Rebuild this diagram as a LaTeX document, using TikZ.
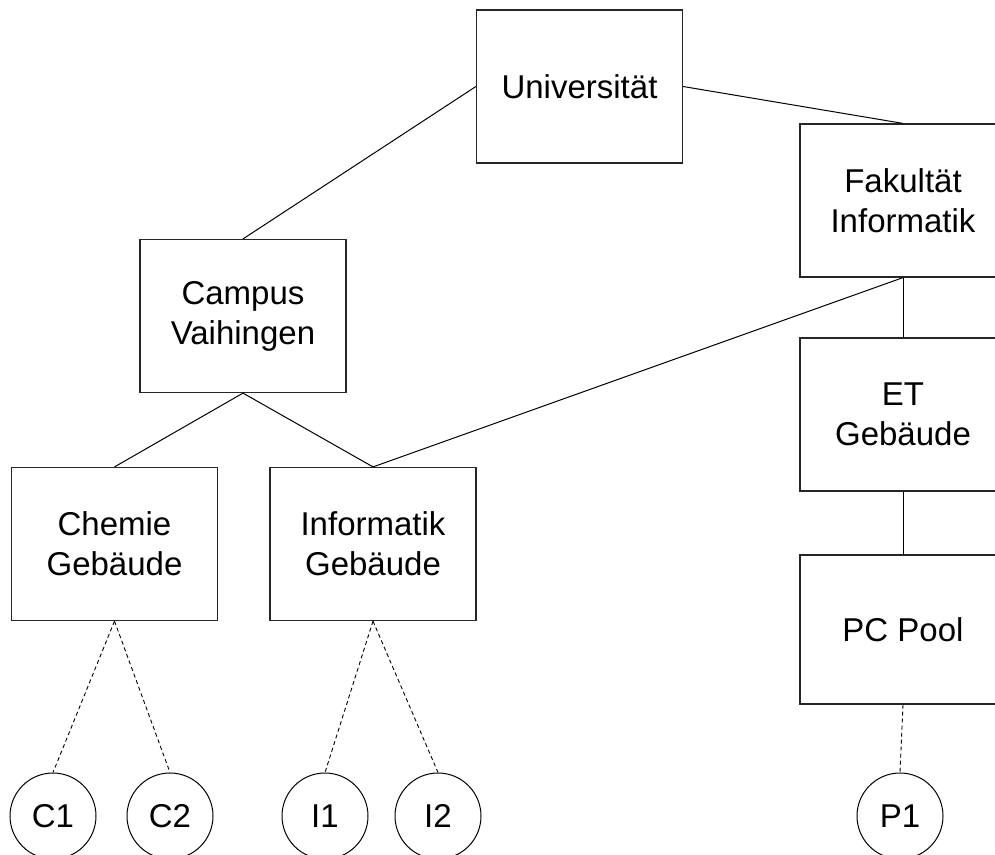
\documentclass[tikz,border=0pt]{standalone}
\usepackage{fontspec}
\setmainfont{Liberation Sans}
\usepackage{tikz}

\begin{document}
\begin{tikzpicture}[
  x=1pt, y=-1pt,
  box/.style={rectangle, draw=black!85, line width=1.2pt, minimum width=206pt, minimum height=153pt, inner sep=0pt, align=center, font=\fontsize{33}{40}\selectfont},
  room/.style={circle, draw=black, line width=1pt, minimum size=86pt, inner sep=0pt, font=\fontsize{33}{40}\selectfont},
  link/.style={black, line width=1pt},
  dlink/.style={black, line width=0.9pt, dash pattern=on 4pt off 3pt}
]
\useasboundingbox (0,0) rectangle (995,854);
\clip (0,0) rectangle (995,854);

% Top
\node[box] (uni) at (579.5,86.5) {Universität};
\node[box] (fak) at (903,200.5) {Fakultät\\Informatik};

% Campus
\node[box] (campus) at (243,316) {Campus\\Vaihingen};
\node[box] (chem) at (114.5,544) {Chemie\\Gebäude};
\node[box] (infg) at (373,544) {Informatik\\Gebäude};

% Right column
\node[box] (et) at (903,414.5) {ET\\Gebäude};
\node[box, minimum height=149pt] (pool) at (903,629.5) {PC Pool};

% Rooms
\node[room] (c1) at (53,816) {C1};
\node[room] (c2) at (170,816) {C2};
\node[room] (i1) at (325,816) {I1};
\node[room] (i2) at (438,816) {I2};
\node[room] (p1) at (900,816) {P1};

% Links
\draw[link] (uni.west) -- (campus.north);
\draw[link] (uni.east) -- (fak.north);
\draw[link] (campus.south) -- (chem.north);
\draw[link] (campus.south) -- (infg.north);
\draw[link] (fak.south) -- (infg.north);
\draw[link] (fak.south) -- (et.north);
\draw[link] (et.south) -- (pool.north);

% Dashed
\draw[dlink] (chem.south) -- (c1.north);
\draw[dlink] (chem.south) -- (c2.north);
\draw[dlink] (infg.south) -- (i1.north);
\draw[dlink] (infg.south) -- (i2.north);
\draw[dlink] (pool.south) -- (p1.north);
\end{tikzpicture}
\end{document}
